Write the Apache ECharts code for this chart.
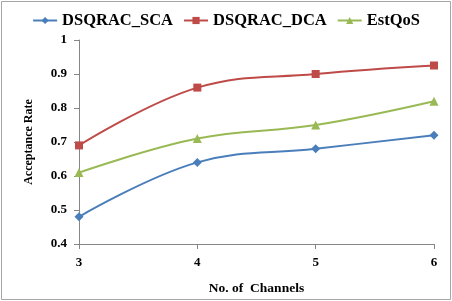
<!DOCTYPE html>
<html><head><meta charset="utf-8">
<script src="https://cdn.jsdelivr.net/npm/echarts@6/dist/echarts.min.js"></script>
<style>html,body{margin:0;padding:0;background:#fff}#c{width:452px;height:301px}</style>
</head><body><div id="c"></div>
<script>
var channels = [3, 4, 5, 6];
var sca = [0.48, 0.64, 0.68, 0.72];
var dca = [0.69, 0.86, 0.90, 0.925];
var estqos = [0.61, 0.71, 0.75, 0.82];
var yTicks = [0.4, 0.5, 0.6, 0.7, 0.8, 0.9, 1];
var font = '"Liberation Serif", "Times New Roman", serif';
function pairs(v){return channels.map(function(c,i){return [c,v[i]];});}
var chart = echarts.init(document.getElementById('c'));
chart.setOption({
  animation:false,
  textStyle:{fontFamily:font},
  graphic:[{type:'rect',shape:{x:1.5,y:1.5,width:449,height:298},style:{fill:'none',stroke:'#a6a6a6',lineWidth:1}}],
  legend:{top:7,left:'center',itemWidth:24,itemHeight:9,itemGap:10,
    textStyle:{fontFamily:font,fontWeight:'bold',fontSize:16.5,color:'#000'},
    data:['DSQRAC_SCA','DSQRAC_DCA','EstQoS']},
  grid:{left:79,right:18,top:40,bottom:57},
  xAxis:{type:'value',min:3,max:6,interval:1,
    name:'No. of  Channels',nameLocation:'middle',nameGap:38,
    nameTextStyle:{fontFamily:font,fontWeight:'bold',fontSize:13.5,color:'#000'},
    axisLine:{lineStyle:{color:'#868686'}},
    axisTick:{show:true,length:5,lineStyle:{color:'#868686'}},
    axisLabel:{fontFamily:font,fontWeight:'bold',fontSize:13,color:'#000',margin:12},
    splitLine:{show:false}},
  yAxis:{type:'value',min:0.4,max:1,interval:0.1,
    name:'Acceptance Rate',nameLocation:'middle',nameGap:44,
    nameTextStyle:{fontFamily:font,fontWeight:'bold',fontSize:12,color:'#000'},
    axisLine:{show:true,lineStyle:{color:'#868686'}},
    axisTick:{show:true,length:5,lineStyle:{color:'#868686'}},
    axisLabel:{fontFamily:font,fontWeight:'bold',fontSize:13,color:'#000',margin:12,
      formatter:function(v){var r=Math.round(v*10)/10;return yTicks.indexOf(r)>=0?String(r):'';}},
    splitLine:{show:false}},
  series:[
    {name:'DSQRAC_SCA',type:'line',smooth:0.4,data:pairs(sca),symbol:'diamond',symbolSize:9,
      lineStyle:{color:'#4a7ebb',width:2},itemStyle:{color:'#4a7ebb'}},
    {name:'DSQRAC_DCA',type:'line',smooth:0.4,data:pairs(dca),symbol:'rect',symbolSize:8,
      lineStyle:{color:'#be4b48',width:2},itemStyle:{color:'#be4b48'}},
    {name:'EstQoS',type:'line',smooth:0.4,data:pairs(estqos),symbol:'triangle',symbolSize:9,
      lineStyle:{color:'#98b954',width:2},itemStyle:{color:'#98b954'}}
  ]
});
</script></body></html>
